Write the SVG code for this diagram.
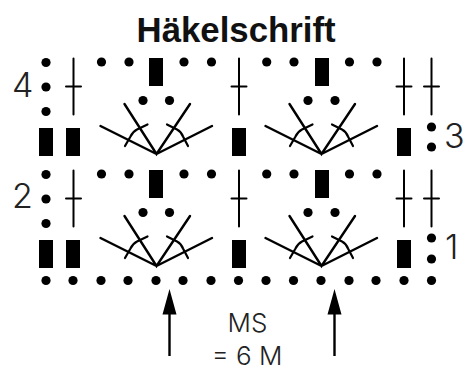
<svg xmlns="http://www.w3.org/2000/svg" width="465" height="367" viewBox="0 0 465 367">
<style>
.t{font-family:"Liberation Sans",Arial,sans-serif;font-weight:700;font-size:34.8px;fill:#111}
.n{font-family:"Inter","Liberation Sans",sans-serif;font-weight:300;font-size:34px;fill:#222}
.m{font-family:"Inter","Liberation Sans",sans-serif;font-weight:300;font-size:26px;fill:#222;text-anchor:middle}
.f{stroke:#000;stroke-width:2.4;fill:none;stroke-linecap:round}
.a{stroke:#000;stroke-width:2.2;fill:none;stroke-linecap:round;stroke-linejoin:round}
.c{stroke:#000;stroke-width:2;fill:none;stroke-linecap:round}
</style>
<defs>
<circle id="d" r="4.6"/>
<rect id="r" x="-7" y="-14" width="14" height="28"/>
<g id="x"><path class="c" d="M0-28V28M-7.500 0H7.500"/></g>
<g id="fan">
<path class="f" d="M100.500 126L156.500 154L212 126M124.500 104L156.500 154L190 104"/>
<path class="a" d="M125 146L130.500 136.500Q133 131.500 137 129.500L147.500 124.500M167 124.500L177 129.500Q181 131.500 183 136.500L188 146"/>
</g>
<g id="row">
<use href="#d" x="101.500" y="62"/><use href="#d" x="129" y="62"/><use href="#r" x="156" y="72"/><use href="#d" x="184" y="62"/><use href="#d" x="211.500" y="62"/>
<use href="#x" x="239" y="86.500"/>
<use href="#d" x="266.700" y="62"/><use href="#d" x="294" y="62"/><use href="#r" x="322" y="72"/><use href="#d" x="349.500" y="62"/><use href="#d" x="377" y="62"/>
<use href="#x" x="404" y="86.500"/><use href="#x" x="431.500" y="86.500"/>
<use href="#x" x="73.500" y="86.500"/>
<use href="#d" x="46" y="62.500"/><use href="#d" x="46" y="87"/><use href="#d" x="46" y="111.500"/>
<use href="#d" x="143" y="100.500"/><use href="#d" x="169.500" y="100.500"/>
<use href="#d" x="308" y="100.500"/><use href="#d" x="335" y="100.500"/>
<use href="#r" x="46" y="142"/><use href="#r" x="73" y="142"/><use href="#r" x="239" y="142"/><use href="#r" x="404" y="142"/>
<use href="#fan"/><use href="#fan" x="165"/>
</g>
</defs>
<rect width="465" height="367" fill="#fff"/>
<g id="title"><text class="t" x="136.500" y="42">Häkelschrift</text></g>
<g id="chart-row-3-4"><use href="#row"/><use href="#d" x="431.500" y="127"/><use href="#d" x="431.500" y="147"/></g>
<g id="chart-row-1-2"><use href="#row" y="112"/><use href="#d" x="431.500" y="238"/><use href="#d" x="431.500" y="259"/></g>
<g id="base-row">
<use href="#d" x="46" y="280.500"/><use href="#d" x="73" y="280.500"/><use href="#d" x="101" y="280.500"/><use href="#d" x="128" y="280.500"/><use href="#d" x="156" y="280.500"/><use href="#d" x="183" y="280.500"/><use href="#d" x="211" y="280.500"/><use href="#d" x="238.500" y="280.500"/><use href="#d" x="266" y="280.500"/><use href="#d" x="293.500" y="280.500"/><use href="#d" x="321" y="280.500"/><use href="#d" x="349" y="280.500"/><use href="#d" x="376" y="280.500"/><use href="#d" x="404" y="280.500"/><use href="#d" x="431.500" y="280.500"/>
</g>
<g id="labels">
<text class="n" x="12" y="97">4</text>
<text class="n" x="12" y="208">2</text>
<text class="n" x="444" y="148">3</text>
<text class="n" x="445" y="259">1</text>
<text class="m" x="247.500" y="331.500">MS</text>
<text class="m" x="247" y="365">= 6 M</text>
</g>
<g id="connectors">
<path d="M169.500 289L176.500 314.500H162.500Z M334.500 289L341.500 314.500H327.500Z"/>
<path d="M169.500 312V356M334.500 312V356" stroke="#000" stroke-width="2.400" fill="none"/>
</g>
</svg>
